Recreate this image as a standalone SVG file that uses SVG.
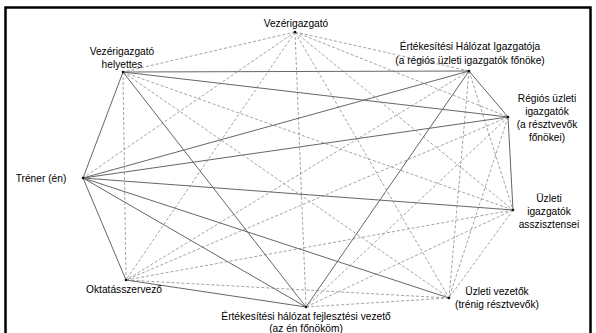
<svg xmlns="http://www.w3.org/2000/svg" width="596" height="333" viewBox="0 0 596 333">
<style>
.s{stroke:#666;stroke-width:1;fill:none}
.d{stroke:#999;stroke-width:0.9;stroke-dasharray:3 2;fill:none}
text{font-family:"Liberation Sans",Arial,sans-serif;font-size:10.2px;fill:#000;text-anchor:middle}
.dot{fill:#111}
</style>
<rect x="0" y="0" width="596" height="333" fill="#fff"/>
<rect x="5.5" y="7.5" width="585" height="340" fill="none" stroke="#000" stroke-width="2.5"/>
<g id="connectors">
<line class="d" x1="295" y1="32" x2="123" y2="72"/>
<line class="d" x1="295" y1="32" x2="469" y2="71"/>
<line class="d" x1="295" y1="32" x2="508" y2="117"/>
<line class="d" x1="295" y1="32" x2="513" y2="210"/>
<line class="d" x1="295" y1="32" x2="449" y2="298"/>
<line class="d" x1="295" y1="32" x2="306" y2="307"/>
<line class="d" x1="295" y1="32" x2="126" y2="280"/>
<line class="d" x1="295" y1="32" x2="83" y2="178"/>
<line class="d" x1="123" y1="72" x2="513" y2="210"/>
<line class="d" x1="123" y1="72" x2="449" y2="298"/>
<line class="d" x1="123" y1="72" x2="126" y2="280"/>
<line class="d" x1="469" y1="71" x2="513" y2="210"/>
<line class="d" x1="469" y1="71" x2="449" y2="298"/>
<line class="d" x1="469" y1="71" x2="126" y2="280"/>
<line class="d" x1="508" y1="117" x2="449" y2="298"/>
<line class="d" x1="508" y1="117" x2="306" y2="307"/>
<line class="d" x1="508" y1="117" x2="126" y2="280"/>
<line class="d" x1="513" y1="210" x2="449" y2="298"/>
<line class="d" x1="513" y1="210" x2="306" y2="307"/>
<line class="d" x1="513" y1="210" x2="126" y2="280"/>
<line class="d" x1="449" y1="298" x2="306" y2="307"/>
<line class="d" x1="449" y1="298" x2="126" y2="280"/>
<line class="s" x1="123" y1="72" x2="469" y2="71"/>
<line class="s" x1="123" y1="72" x2="508" y2="117"/>
<line class="s" x1="123" y1="72" x2="306" y2="307"/>
<line class="s" x1="123" y1="72" x2="83" y2="178"/>
<line class="s" x1="83" y1="178" x2="469" y2="71"/>
<line class="s" x1="83" y1="178" x2="508" y2="117"/>
<line class="s" x1="83" y1="178" x2="513" y2="210"/>
<line class="s" x1="83" y1="178" x2="449" y2="298"/>
<line class="s" x1="83" y1="178" x2="306" y2="307"/>
<line class="s" x1="83" y1="178" x2="126" y2="280"/>
<line class="s" x1="469" y1="71" x2="508" y2="117"/>
<line class="s" x1="469" y1="71" x2="306" y2="307"/>
<line class="s" x1="508" y1="117" x2="513" y2="210"/>
<line class="s" x1="306" y1="307" x2="126" y2="280"/>
</g>
<g id="vezerigazgato"><circle class="dot" cx="295" cy="32" r="1.3"/><text x="296" y="27">Vezérigazgató</text></g>
<g id="vezerigazgato-helyettes"><circle class="dot" cx="123" cy="72" r="1.3"/><text x="122" y="55">Vezérigazgató</text><text x="122" y="67.5">helyettes</text></g>
<g id="ertekesitesi-halozat-igazgatoja"><circle class="dot" cx="469" cy="71" r="1.3"/><text x="470" y="50">Értékesítési Hálózat Igazgatója</text><text x="470" y="63.5">(a régiós üzleti igazgatók főnöke)</text></g>
<g id="regios-uzleti-igazgatok"><circle class="dot" cx="508" cy="117" r="1.3"/><text x="547" y="101.5">Régiós üzleti</text><text x="547" y="114.5">igazgatók</text><text x="547" y="128">(a résztvevők</text><text x="547" y="141">főnökei)</text></g>
<g id="uzleti-igazgatok-asszisztensei"><circle class="dot" cx="513" cy="210" r="1.3"/><text x="549" y="201.5">Üzleti</text><text x="549" y="214.5">igazgatók</text><text x="549" y="227.5">asszisztensei</text></g>
<g id="uzleti-vezetok"><circle class="dot" cx="449" cy="298" r="1.3"/><text x="497" y="295">Üzleti vezetők</text><text x="497" y="308">(trénig résztvevők)</text></g>
<g id="fejlesztesi-vezeto"><circle class="dot" cx="306" cy="307" r="1.3"/><text x="306" y="320">Értékesítési hálózat fejlesztési vezető</text><text x="306" y="332">(az én főnököm)</text></g>
<g id="oktatasszervezo"><circle class="dot" cx="126" cy="280" r="1.3"/><text x="124" y="293">Oktatásszervező</text></g>
<g id="trener"><circle class="dot" cx="83" cy="178" r="1.3"/><text x="41" y="182">Tréner (én)</text></g>
</svg>
